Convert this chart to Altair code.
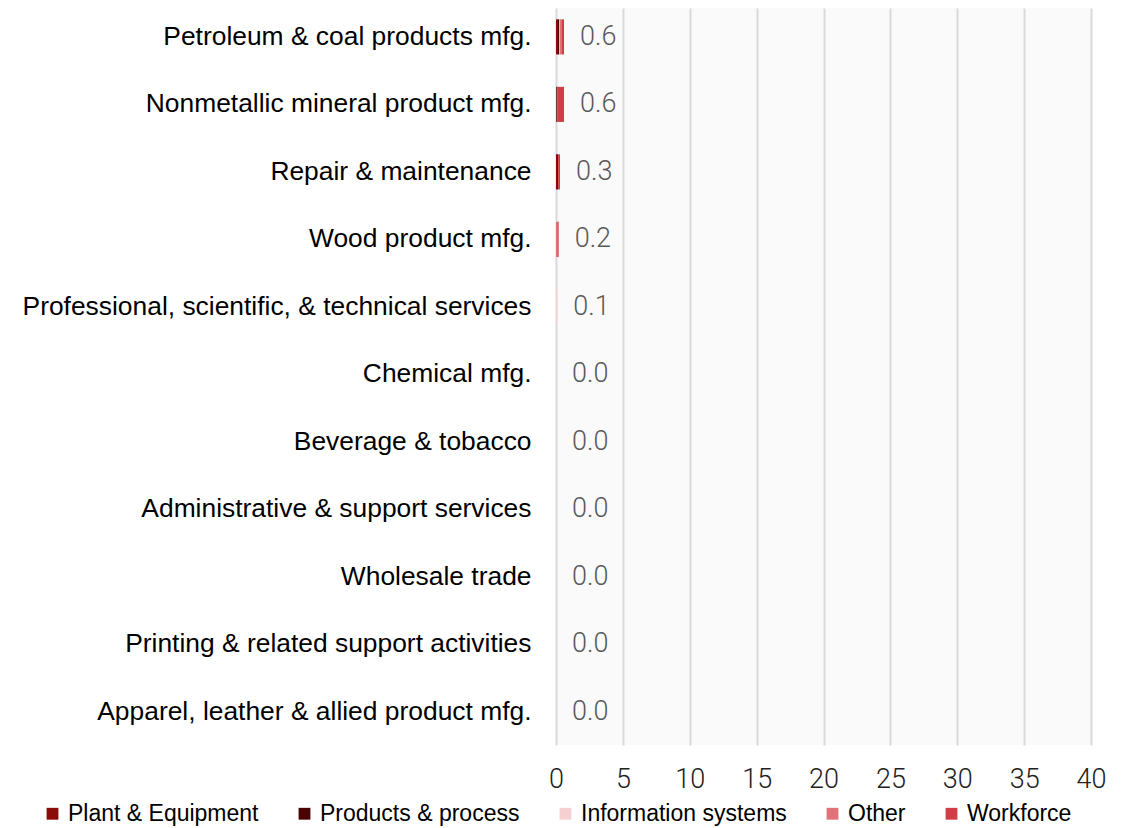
import altair as alt
import pandas as pd

categories = [
    "Petroleum & coal products mfg.",
    "Nonmetallic mineral product mfg.",
    "Repair & maintenance",
    "Wood product mfg.",
    "Professional, scientific, & technical services",
    "Chemical mfg.",
    "Beverage & tobacco",
    "Administrative & support services",
    "Wholesale trade",
    "Printing & related support activities",
    "Apparel, leather & allied product mfg.",
]
series = ["Plant & Equipment", "Products & process", "Information systems", "Other", "Workforce"]
colors = ["#8B0A0A", "#4A0404", "#F5CFD2", "#E07378", "#D23C44"]

plant = [0.15, 0.03, 0.08, 0.0, 0.0, 0, 0, 0, 0, 0, 0]
products = [0.1, 0.07, 0.08, 0.0, 0.0, 0, 0, 0, 0, 0, 0]
info = [0.05, 0.0, 0.0, 0.0, 0.1, 0, 0, 0, 0, 0, 0]
other = [0.1, 0.0, 0.0, 0.1, 0.0, 0, 0, 0, 0, 0, 0]
workforce = [0.2, 0.5, 0.14, 0.1, 0.0, 0, 0, 0, 0, 0, 0]
x_ticks = [0, 5, 10, 15, 20, 25, 30, 35, 40]

rows = []
for i, c in enumerate(categories):
    for j, (s, vals) in enumerate(zip(series, [plant, products, info, other, workforce])):
        rows.append({"category": c, "series": s, "value": vals[i], "order": j})
df = pd.DataFrame(rows)
totals = df.groupby("category", sort=False)["value"].sum().reset_index()
totals["label"] = totals["value"].map(lambda v: f"{v:.1f}")

y_enc = alt.Y(
    "category:N",
    sort=categories,
    title=None,
    scale=alt.Scale(paddingInner=0.48, paddingOuter=0.2, align=0.42),
    axis=alt.Axis(
        labelFont="Liberation Sans",
        labelFontSize=26.4,
        labelColor="#000000",
        labelPadding=25,
        ticks=False,
        domain=False,
        grid=False,
        labelLimit=600,
    ),
)

bars = alt.Chart(df).mark_bar().encode(
    y=y_enc,
    x=alt.X(
        "value:Q",
        stack="zero",
        title=None,
        scale=alt.Scale(domain=[0, 40], nice=False),
        axis=alt.Axis(
            values=x_ticks,
            labelFont="Roboto",
            labelFontWeight=300,
            labelFontSize=27,
            labelColor="#222222",
            labelPadding=21,
            labelFlush=False,
            ticks=False,
            domain=False,
            grid=True,
            gridColor="#d9d9d9",
            gridWidth=2,
        ),
    ),
    color=alt.Color(
        "series:N",
        scale=alt.Scale(domain=series, range=colors),
        legend=alt.Legend(
            title=None,
            orient="none",
            direction="horizontal",
            legendX=-515,
            legendY=794,
            symbolType="square",
            symbolSize=140,
            symbolStrokeWidth=0,
            labelFont="Liberation Sans",
            labelFontSize=23,
            labelColor="#000000",
            labelOffset=4,
            columnPadding=34,
            labelLimit=400,
        ),
    ),
    order=alt.Order("order:Q"),
)

labels = alt.Chart(totals).mark_text(
    align="left",
    baseline="middle",
    dx=16,
    font="Roboto",
    fontWeight=300,
    fontSize=27,
    color="#595959",
).encode(
    y=alt.Y("category:N", sort=categories),
    x=alt.X("value:Q"),
    text="label:N",
)

chart = (
    alt.layer(bars, labels)
    .properties(
        width=535,
        height=737,
        autosize=alt.AutoSizeParams(type="none"),
        padding={"left": 548, "top": 0, "right": 38, "bottom": 85},
    )
    .configure_view(fill="#fafafa", stroke=None)
)

chart.save("out.html", embed_options={"renderer": "svg", "actions": False})
